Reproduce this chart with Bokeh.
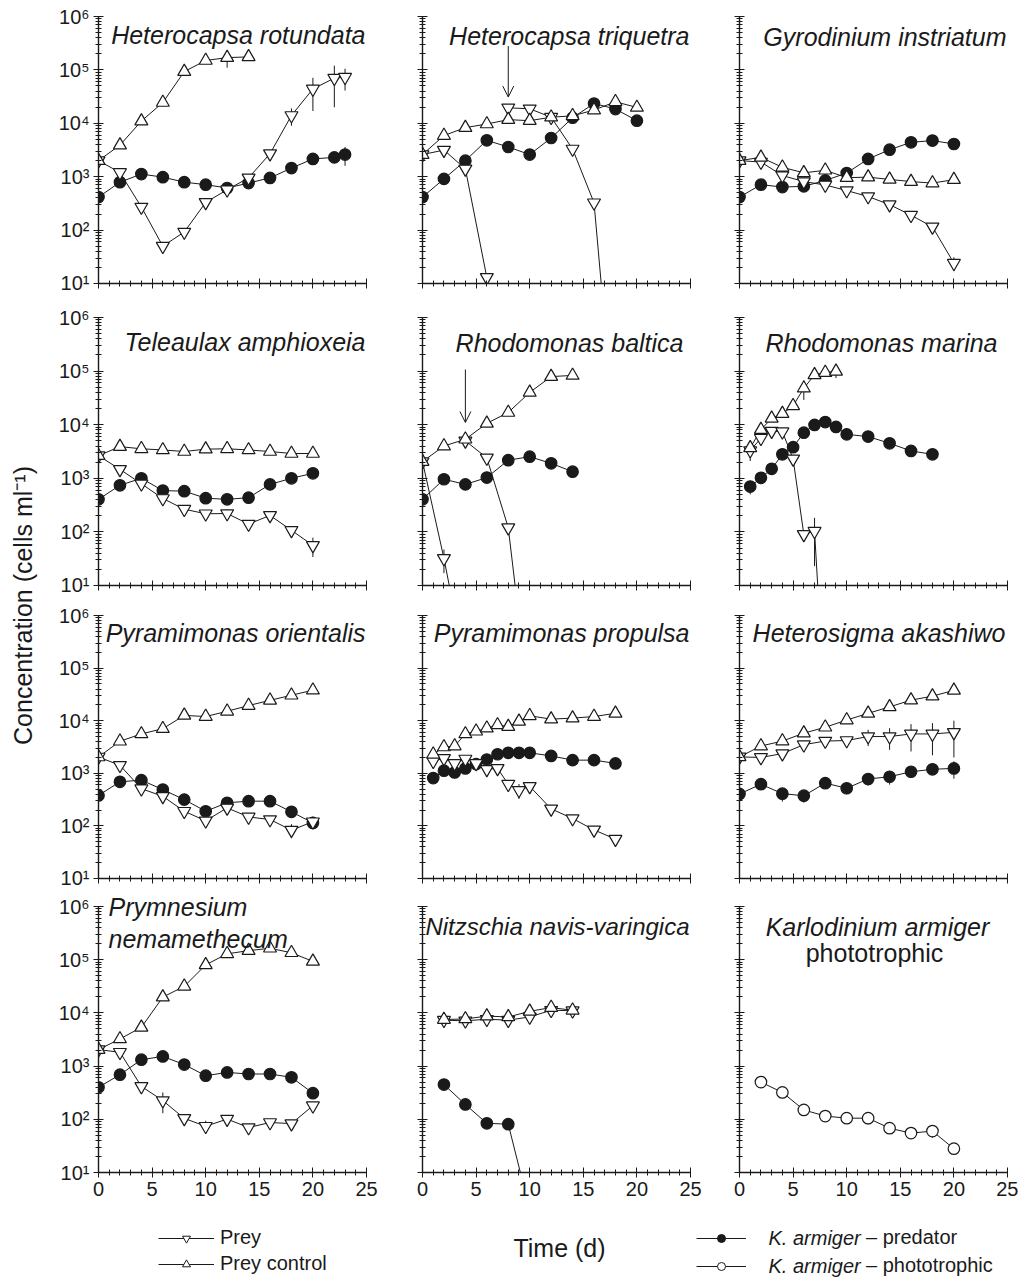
import math
from bokeh.plotting import figure
from bokeh.layouts import row, column
from bokeh.models import (Range1d, FixedTicker, CustomJSTickFormatter, Label, Arrow,
                          OpenHead, Legend, LegendItem)
from bokeh.embed import file_html
from bokeh.resources import INLINE

FONT = "Liberation Sans"
INK = "#1a1a1a"

# ---------------- data (cells ml-1 vs day) ----------------
# Heterocapsa rotundata
hr_days = [0, 2, 4, 6, 8, 10, 12, 14, 16, 18, 20, 22, 23]
hr_prey = [2000, 1200, 270, 50, 92, 330, 570, 950, 2700, 14000, 44000, 70000, 73000]
hr_prey_se = [0, 0, 0, 0, 15, 60, 0, 0, 0, 5000, 27000, 50000, 32000]
hr_ctrl_days = [0, 2, 4, 6, 8, 10, 12, 14]
hr_ctrl = [2000, 3900, 11000, 24500, 93000, 150000, 170000, 175000]
hr_ctrl_se = [0, 0, 0, 0, 0, 0, 60000, 0]
hr_pred = [415, 790, 1120, 980, 790, 710, 615, 760, 950, 1450, 2150, 2300, 2600]
hr_pred_se = [100, 0, 0, 0, 0, 0, 0, 0, 0, 0, 0, 0, 1000]

# Heterocapsa triquetra
ht_days = [0, 2, 4, 6, 8, 10, 12, 14, 16, 18, 20]
ht_ctrl = [2600, 5900, 8300, 9700, 11700, 11200, 13000, 13800, 17700, 25300, 19800]
ht_pred = [415, 910, 2000, 4800, 3600, 2600, 5300, 12700, 23500, 18500, 11200]
ht_prey1_days = [0, 2, 4, 6]
ht_prey1 = [2600, 3150, 1400, 13]
ht_prey2_days = [8, 10, 12, 14, 16, 18]
ht_prey2 = [19500, 18700, 13000, 3300, 325, 0.01]
ht_arrow_day = [8]
ht_arrow_from = [280000]
ht_arrow_to = [31000]

# Gyrodinium instriatum
gi_days = [0, 2, 4, 6, 8, 10, 12, 14, 16, 18, 20]
gi_ctrl = [2000, 2300, 1500, 1180, 1320, 960, 980, 890, 810, 760, 880]
gi_prey = [2000, 1880, 1050, 810, 700, 550, 425, 300, 190, 115, 24]
gi_prey_se = [0, 0, 0, 0, 0, 0, 0, 0, 0, 0, 7]
gi_pred = [415, 710, 640, 660, 850, 1170, 2150, 3200, 4400, 4750, 4100]

# Teleaulax amphioxeia
ta_days = [0, 2, 4, 6, 8, 10, 12, 14, 16, 18, 20]
ta_ctrl = [2640, 3900, 3550, 3380, 3160, 3500, 3550, 3380, 3160, 2900, 2900]
ta_prey = [2640, 1470, 790, 420, 265, 218, 220, 140, 203, 107, 56]
ta_prey_se = [0, 0, 0, 0, 0, 0, 40, 0, 0, 0, 22]
ta_pred = [405, 740, 1000, 590, 575, 425, 405, 435, 770, 1000, 1240]
ta_pred_se = [0, 0, 0, 0, 0, 0, 0, 100, 0, 0, 0]

# Rhodomonas baltica
rb_days = [0, 2, 4, 6, 8, 10, 12, 14]
rb_ctrl = [2050, 4000, 5350, 10600, 16900, 40000, 79000, 83000]
rb_pred = [405, 960, 770, 1030, 2180, 2530, 1900, 1330]
rb_prey1_days = [0, 2, 4]
rb_prey1 = [2050, 32, 0.3]
rb_prey1_se = [0, 15, 0]
rb_prey2_days = [4, 6, 8, 10]
rb_prey2 = [5000, 2400, 120, 0.05]
rb_arrow_day = [4]
rb_arrow_from = [107000]
rb_arrow_to = [11000]

# Rhodomonas marina
rm_ctrl_days = [1, 2, 3, 4, 5, 6, 7, 8, 9]
rm_ctrl = [3700, 8100, 13100, 16100, 22500, 48000, 85000, 94000, 99000]
rm_ctrl_se = [0, 0, 0, 0, 0, 19000, 0, 0, 25000]
rm_prey_days = [1, 2, 3, 4, 5, 6, 7, 8]
rm_prey = [3300, 5600, 7600, 7400, 2300, 90, 103, 0.04]
rm_prey_se = [1200, 0, 0, 0, 0, 0, 80, 0]
rm_pred_days = [1, 2, 3, 4, 5, 6, 7, 8, 9, 10, 12, 14, 16, 18]
rm_pred = [700, 1020, 1500, 2800, 3800, 7100, 9900, 11200, 9100, 6600, 6000, 4500, 3240, 2800]
rm_pred_se = [200, 0, 0, 0, 0, 0, 0, 0, 0, 0, 0, 0, 0, 0]

# Pyramimonas orientalis
po_days = [0, 2, 4, 6, 8, 10, 12, 14, 16, 18, 20]
po_ctrl = [2040, 4070, 5600, 7050, 12600, 12000, 15100, 19400, 24400, 30500, 38000]
po_ctrl_se = [0, 0, 0, 0, 2000, 0, 0, 0, 0, 0, 0]
po_prey = [2040, 1420, 510, 365, 190, 125, 220, 148, 132, 83, 120]
po_prey_se = [0, 0, 0, 0, 0, 0, 0, 0, 20, 25, 30]
po_pred = [380, 690, 740, 490, 316, 190, 275, 295, 295, 185, 114]
po_pred_se = [0, 0, 0, 0, 0, 0, 0, 0, 0, 0, 20]

# Pyramimonas propulsa
pp_days = [1, 2, 3, 4, 5, 6, 7, 8, 9, 10, 12, 14, 16, 18]
pp_ctrl = [2300, 3160, 3300, 5600, 6300, 7200, 8300, 7700, 9700, 12400, 10700, 11200, 12000, 13800]
pp_ctrl_se = [0, 0, 0, 0, 0, 0, 0, 0, 1500, 0, 0, 0, 0, 0]
pp_prey = [1700, 1920, 1540, 1870, 1540, 1190, 1240, 620, 475, 565, 211, 138, 84, 56]
pp_prey_se = [0, 0, 0, 0, 0, 0, 200, 0, 150, 0, 0, 0, 0, 0]
pp_pred = [810, 1120, 1040, 1240, 1500, 1830, 2300, 2450, 2450, 2450, 2140, 1780, 1780, 1540]
pp_pred_se = [0, 0, 0, 250, 0, 0, 0, 0, 0, 0, 0, 0, 0, 0]

# Heterosigma akashiwo
ha_days = [0, 2, 4, 6, 8, 10, 12, 14, 16, 18, 20]
ha_ctrl = [2050, 3300, 4100, 5800, 7500, 10300, 13800, 18300, 24600, 29300, 37700]
ha_prey = [2050, 2000, 2370, 3500, 4100, 4200, 5000, 5000, 5600, 5600, 6000]
ha_prey_se = [0, 0, 0, 0, 0, 500, 1700, 2200, 3000, 3400, 4000]
ha_pred = [405, 620, 410, 375, 650, 520, 780, 860, 1070, 1190, 1240]
ha_pred_se = [0, 0, 120, 100, 130, 120, 200, 250, 250, 250, 450]

# Prymnesium nemamethecum
pn_days = [0, 2, 4, 6, 8, 10, 12, 14, 16, 18, 20]
pn_ctrl = [2040, 3240, 5350, 19800, 31600, 80000, 129000, 148000, 164000, 135000, 93000]
pn_prey = [2040, 1820, 415, 225, 104, 74, 101, 70, 87, 83, 180]
pn_prey_se = [0, 0, 0, 95, 0, 20, 0, 10, 0, 0, 20]
pn_pred = [400, 690, 1320, 1520, 1070, 660, 760, 710, 710, 615, 310]

# Nitzschia navis-varingica
nn_days = [2, 4, 6, 8, 10, 12, 14]
nn_ctrl = [7500, 7700, 8700, 8400, 10700, 12600, 11200]
nn_prey = [7300, 7100, 7600, 7300, 8400, 11200, 11000]
nn_pred_days = [2, 4, 6, 8, 10]
nn_pred = [450, 190, 84, 81, 2]

# Karlodinium armiger, phototrophic
ka_days = [2, 4, 6, 8, 10, 12, 14, 16, 18, 20]
ka_photo = [500, 320, 150, 115, 105, 105, 68, 55, 60, 28]
ka_photo_se = [0, 60, 0, 0, 20, 25, 0, 12, 15, 0]

# axis ticks
X_TICKS = [0, 5, 10, 15, 20, 25]
X_MINOR = list(range(0, 26))
Y_TICKS = [10, 100, 1000, 10000, 100000, 1000000]
Y_MINOR = [m * 10 ** e for e in range(1, 6) for m in range(2, 10)]

# ---------------- panel table ----------------
PANELS = [
    {"series": [("ctrl", hr_ctrl_days, hr_ctrl, hr_ctrl_se), ("prey", hr_days, hr_prey, hr_prey_se),
                ("pred", hr_days, hr_pred, hr_pred_se)], "arrows": None},
    {"series": [("ctrl", ht_days, ht_ctrl, None), ("prey", ht_prey1_days, ht_prey1, None),
                ("prey", ht_prey2_days, ht_prey2, None), ("pred", ht_days, ht_pred, None)],
     "arrows": (ht_arrow_day, ht_arrow_from, ht_arrow_to)},
    {"series": [("ctrl", gi_days, gi_ctrl, None), ("prey", gi_days, gi_prey, gi_prey_se),
                ("pred", gi_days, gi_pred, None)], "arrows": None},
    {"series": [("ctrl", ta_days, ta_ctrl, None), ("prey", ta_days, ta_prey, ta_prey_se),
                ("pred", ta_days, ta_pred, ta_pred_se)], "arrows": None},
    {"series": [("ctrl", rb_days, rb_ctrl, None), ("prey", rb_prey1_days, rb_prey1, rb_prey1_se),
                ("prey", rb_prey2_days, rb_prey2, None), ("pred", rb_days, rb_pred, None)],
     "arrows": (rb_arrow_day, rb_arrow_from, rb_arrow_to)},
    {"series": [("ctrl", rm_ctrl_days, rm_ctrl, rm_ctrl_se), ("prey", rm_prey_days, rm_prey, rm_prey_se),
                ("pred", rm_pred_days, rm_pred, rm_pred_se)], "arrows": None},
    {"series": [("ctrl", po_days, po_ctrl, po_ctrl_se), ("prey", po_days, po_prey, po_prey_se),
                ("pred", po_days, po_pred, po_pred_se)], "arrows": None},
    {"series": [("ctrl", pp_days, pp_ctrl, pp_ctrl_se), ("prey", pp_days, pp_prey, pp_prey_se),
                ("pred", pp_days, pp_pred, pp_pred_se)], "arrows": None},
    {"series": [("ctrl", ha_days, ha_ctrl, None), ("prey", ha_days, ha_prey, ha_prey_se),
                ("pred", ha_days, ha_pred, ha_pred_se)], "arrows": None},
    {"series": [("ctrl", pn_days, pn_ctrl, None), ("prey", pn_days, pn_prey, pn_prey_se),
                ("pred", pn_days, pn_pred, None)], "arrows": None},
    {"series": [("ctrl", nn_days, nn_ctrl, None), ("prey", nn_days, nn_prey, None),
                ("pred", nn_pred_days, nn_pred, None)], "arrows": None},
    {"series": [("photo", ka_days, ka_photo, ka_photo_se)], "arrows": None},
]

# titles: (text, x position from frame left, baseline offset below frame top, align, style, size)
# align "head" = drawn as the plot's own title, allowed to rise above the frame
TITLES = [
    [("Heterocapsa rotundata", 267, 18, "right", "italic", 25)],
    [("Heterocapsa triquetra", 267, 19, "right", "italic", 25)],
    [("Gyrodinium instriatum", 267, 20, "right", "italic", 25)],
    [("Teleaulax amphioxeia", 267, 24, "right", "italic", 25)],
    [("Rhodomonas baltica", 261, 25, "right", "italic", 25)],
    [("Rhodomonas marina", 258, 25, "right", "italic", 25)],
    [("Pyramimonas orientalis", 267, 17, "right", "italic", 25)],
    [("Pyramimonas propulsa", 267, 17, "right", "italic", 25)],
    [("Heterosigma akashiwo", 266, 17, "right", "italic", 25)],
    [("Prymnesium", 10, 14, "head", "italic", 25), ("nemamethecum", 10, 32, "left", "italic", 25)],
    [("Nitzschia navis-varingica", 267, 20, "right", "italic", 24)],
    [("Karlodinium armiger", 138, 20, "center", "italic", 25),
     ("phototrophic", 135, 46, "center", "normal", 25)],
]

MARKERS = {
    "prey": dict(marker="inverted_triangle", size=13, fill_color="white"),
    "ctrl": dict(marker="triangle", size=13, fill_color="white"),
    "pred": dict(marker="circle", size=11.5, fill_color=INK),
    "photo": dict(marker="circle", size=11.5, fill_color="white"),
}
DRAW_ORDER = ["pred", "photo", "prey", "ctrl"]

# ---------------- layout geometry ----------------
FW = 268
YLAB_W = 48
COL_L = [50, 26, 24]
COL_R = [30, 25, 11]
ROW_T = [16, 24, 20, 18]
ROW_H = [267, 268, 263, 266]
ROW_B = [10, 10, 10, 34]

SUPER_JS = r"""
const s = ['\u2070','\u00b9','\u00b2','\u00b3','\u2074','\u2075','\u2076','\u2077','\u2078','\u2079'];
const e = Math.round(Math.log(tick) / Math.LN10);
return '10' + String(e).split('').map(function(c){ return s[parseInt(c)]; }).join('');
"""
BLANK_JS = "return '';"


def style_axis(ax, show):
    ax.axis_line_color = INK
    ax.axis_line_width = 1.4
    ax.major_tick_line_color = INK
    ax.minor_tick_line_color = INK
    ax.major_tick_line_width = 1
    ax.minor_tick_line_width = 1
    ax.major_tick_in = 5
    ax.major_tick_out = 5
    ax.minor_tick_in = 3
    ax.minor_tick_out = 3
    ax.major_label_text_font = FONT
    ax.major_label_text_color = INK
    if show:
        ax.major_label_text_font_size = "20px"
        ax.major_label_standoff = 4
    else:
        ax.major_label_text_font_size = "0px"
        ax.major_label_standoff = 0
        ax.formatter = CustomJSTickFormatter(code=BLANK_JS)


def make_panel(i):
    r, c = divmod(i, 3)
    p = figure(width=COL_L[c] + FW + COL_R[c], height=ROW_T[r] + ROW_H[r] + ROW_B[r],
               x_range=Range1d(0, 25), y_range=Range1d(10, 1e6), y_axis_type="log",
               toolbar_location=None, output_backend="svg",
               min_border_left=COL_L[c], min_border_right=COL_R[c],
               min_border_top=ROW_T[r], min_border_bottom=ROW_B[r])
    p.outline_line_color = None
    p.xgrid.visible = False
    p.ygrid.visible = False
    p.background_fill_color = "white"
    p.border_fill_color = "white"

    xa = p.xaxis[0]
    ya = p.yaxis[0]
    xa.ticker = FixedTicker(ticks=X_TICKS, minor_ticks=X_MINOR)
    ya.ticker = FixedTicker(ticks=Y_TICKS, minor_ticks=Y_MINOR)
    style_axis(xa, r == 3)
    style_axis(ya, c == 0)
    if c == 0:
        ya.formatter = CustomJSTickFormatter(code=SUPER_JS)

    spec = PANELS[i]
    for kind, days, vals, se in spec["series"]:
        p.line(days, vals, line_color=INK, line_width=1)
    for kind, days, vals, se in spec["series"]:
        if se is None:
            continue
        ex = [d for d, s in zip(days, se) if s > 0]
        lo = [max(v - s, 1.0) for v, s in zip(vals, se) if s > 0]
        hi = [v + s for v, s in zip(vals, se) if s > 0]
        if ex:
            p.segment(x0=ex, y0=lo, x1=ex, y1=hi, line_color=INK, line_width=1)
    for kind_wanted in DRAW_ORDER:
        for kind, days, vals, se in spec["series"]:
            if kind != kind_wanted:
                continue
            m = MARKERS[kind]
            p.scatter(days, vals, marker=m["marker"], size=m["size"], fill_color=m["fill_color"],
                      line_color=INK, line_width=1.2)
    if spec["arrows"] is not None:
        ad, af, at = spec["arrows"]
        for d, y0, y1 in zip(ad, af, at):
            p.add_layout(Arrow(end=OpenHead(size=11, line_color=INK, line_width=1),
                               x_start=d, y_start=y0, x_end=d, y_end=y1,
                               line_color=INK, line_width=1))
    for text, xo, yo, align, style, fs in TITLES[i]:
        if align == "head":
            # plot title, pulled down so its descender sits yo px below the frame top
            p.title.text = text
            p.title.align = "left"
            p.title.offset = xo
            p.title.vertical_align = "bottom"
            p.title.standoff = -2 * yo
            p.title.text_font = FONT
            p.title.text_font_style = style
            p.title.text_font_size = f"{fs}px"
            p.title.text_color = INK
            continue
        p.add_layout(Label(x=xo, y=ROW_H[r] - yo, x_units="screen", y_units="screen", text=text,
                           text_align=align, text_baseline="alphabetic", text_font=FONT,
                           text_font_style=style, text_font_size=f"{fs}px", text_color=INK))
    return p


figs = [make_panel(i) for i in range(12)]
grid = column(*[row(*figs[3 * k:3 * k + 3]) for k in range(4)])
GRID_H = sum(ROW_T) + sum(ROW_H) + sum(ROW_B)
TOTAL_W = YLAB_W + sum(COL_L) + 3 * FW + sum(COL_R)

# y-axis title figure
ylab = figure(width=YLAB_W, height=GRID_H, x_range=Range1d(0, 1), y_range=Range1d(0, 1),
              x_axis_type=None, y_axis_type=None, toolbar_location=None,
              output_backend="svg", min_border=0)
ylab.outline_line_color = None
ylab.add_layout(Label(x=22, y=GRID_H - 605, x_units="screen", y_units="screen",
                      text="Concentration (cells ml\u207b\u00b9)", angle=math.pi / 2,
                      text_align="center", text_baseline="middle", text_font=FONT,
                      text_font_size="25px", text_color=INK))

# legend / x title figure
LEG_H = 71
nan = float("nan")
leg = figure(width=TOTAL_W, height=LEG_H, x_range=Range1d(0, 1), y_range=Range1d(0, 1),
             x_axis_type=None, y_axis_type=None, toolbar_location=None,
             output_backend="svg", min_border=0)
leg.outline_line_color = None
r_line = leg.line(x=[nan], y=[nan], line_color=INK, line_width=1)
r_prey = leg.scatter(x=[nan], y=[nan], marker="inverted_triangle", fill_color="white", line_color=INK, line_width=1)
r_ctrl = leg.scatter(x=[nan], y=[nan], marker="triangle", fill_color="white", line_color=INK, line_width=1)
r_pred = leg.scatter(x=[nan], y=[nan], marker="circle", fill_color=INK, line_color=INK, line_width=1)
r_photo = leg.scatter(x=[nan], y=[nan], marker="circle", fill_color="white", line_color=INK, line_width=1)

lg1 = Legend(items=[LegendItem(label="Prey", renderers=[r_line, r_prey]),
                    LegendItem(label="Prey control", renderers=[r_line, r_ctrl])],
             location=(158, 2), orientation="vertical", glyph_width=56, glyph_height=20,
             label_height=20, label_standoff=6, spacing=3, padding=0, margin=0,
             border_line_color=None, background_fill_alpha=0,
             label_text_font=FONT, label_text_font_size="20px", label_text_color=INK)
lg2 = Legend(items=[LegendItem(label="\u2013 predator", renderers=[r_line, r_pred]),
                    LegendItem(label="\u2013 phototrophic", renderers=[r_line, r_photo])],
             location=(696, 0), orientation="vertical", glyph_width=50, glyph_height=20,
             label_height=20, label_standoff=120, spacing=5, padding=0, margin=0,
             border_line_color=None, background_fill_alpha=0,
             label_text_font=FONT, label_text_font_size="20px", label_text_color=INK)
leg.add_layout(lg1)
leg.add_layout(lg2)
for yy in (39.5, 11.5):
    leg.add_layout(Label(x=768, y=yy, x_units="screen", y_units="screen", text="K. armiger",
                         text_align="left", text_baseline="middle", text_font=FONT,
                         text_font_style="italic", text_font_size="20px", text_color=INK))
leg.add_layout(Label(x=559, y=30, x_units="screen", y_units="screen", text="Time (d)",
                     text_align="center", text_baseline="middle", text_font=FONT,
                     text_font_size="25px", text_color=INK))

page = column(row(ylab, grid), leg)
html = file_html(page, INLINE, title="Karlodinium armiger prey growth")
with open("out.html", "w", encoding="utf-8") as f:
    f.write(html)
